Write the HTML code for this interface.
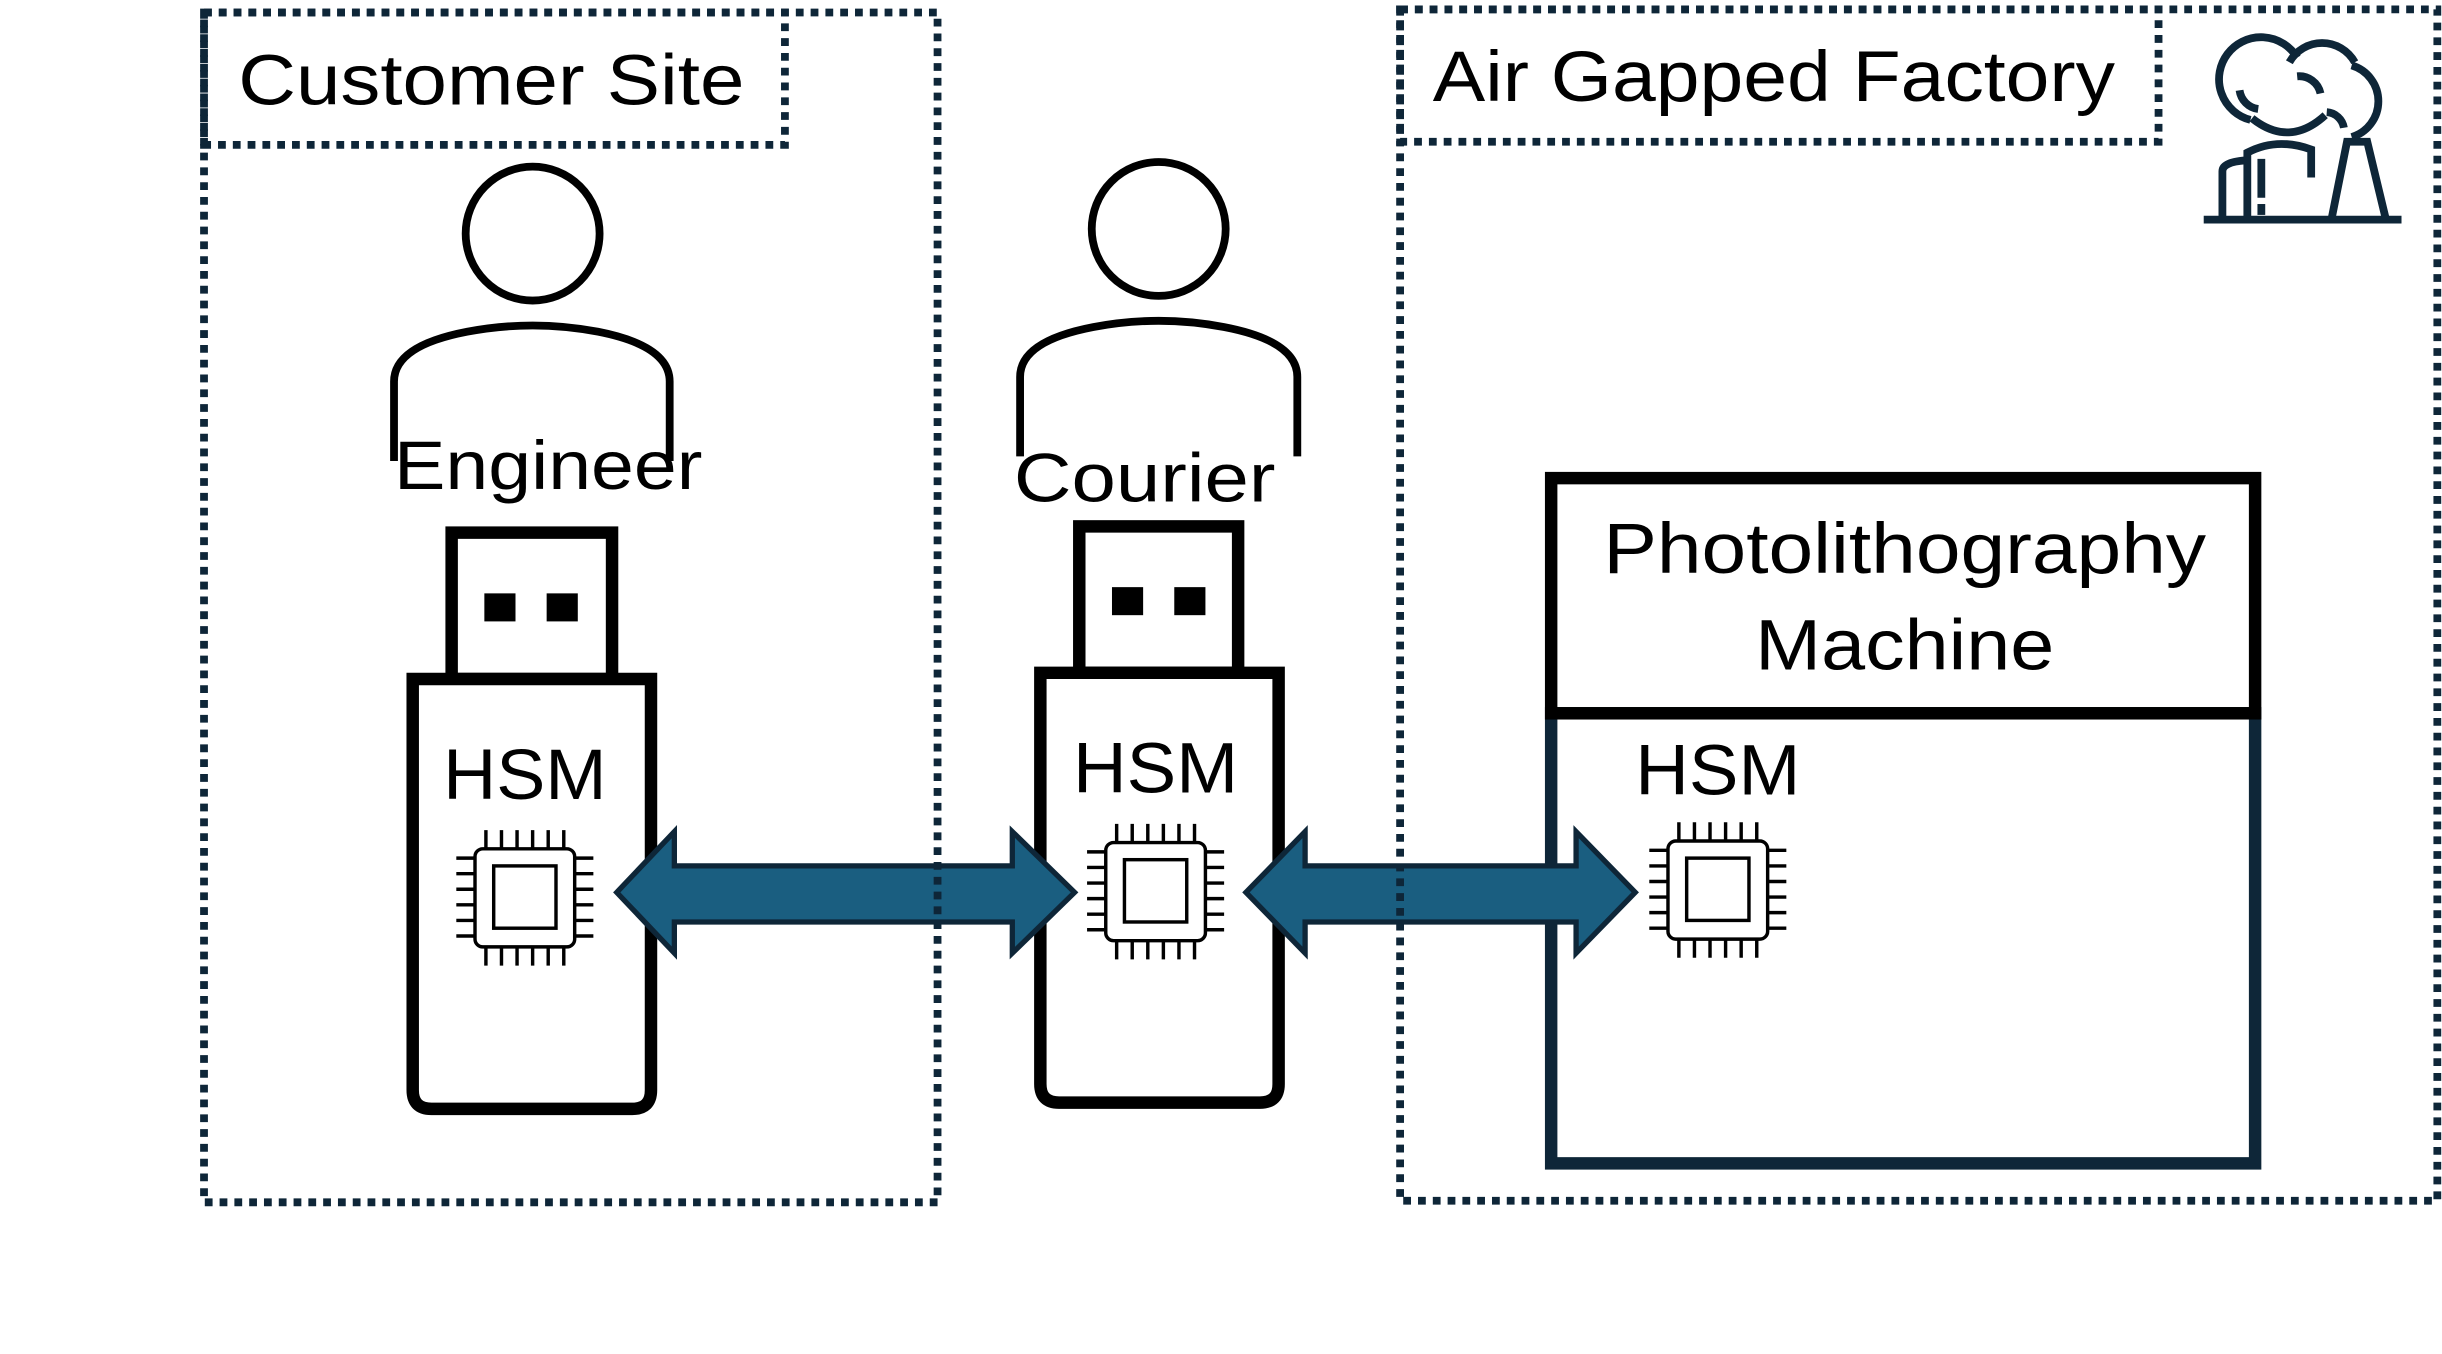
<!DOCTYPE html>
<html><head><meta charset="utf-8"><style>
html,body{margin:0;padding:0;background:#fff;}
svg{display:block;}
text{font-family:"Liberation Sans",sans-serif;fill:#000;}
</style></head><body>
<svg width="2442" height="1354" viewBox="0 0 1568 869.4" preserveAspectRatio="none" xmlns="http://www.w3.org/2000/svg">
<text x="153" y="67" font-size="46" textLength="325" lengthAdjust="spacingAndGlyphs">Customer Site</text>
<text x="920" y="65" font-size="46" textLength="438" lengthAdjust="spacingAndGlyphs">Air Gapped Factory</text>
<!-- factory icon -->
<g fill="none" stroke="#0e2638" stroke-width="5">
<line x1="1415" y1="141" x2="1542" y2="141"/>
<path d="M1497,141 L1507,91 L1520,91 L1532,141"/>
<path d="M1427,141 V110 Q1427,104 1442,103"/>
<path d="M1443,141 V98 Q1462,88 1484,96 V114"/>
<line x1="1452" y1="102" x2="1452" y2="127"/>
<line x1="1452" y1="131" x2="1452" y2="138"/>
<path d="M1445,77 A27,27 0 1 1 1475,37"/>
<path d="M1470,40 A24,24 0 0 1 1512,40"/>
<path d="M1510,42 A24,24 0 0 1 1510,88"/>
<path d="M1450,70 A14,14 0 0 1 1438,58"/>
<path d="M1490,60 A14,14 0 0 0 1475,49"/>
<path d="M1505,82 A12,12 0 0 0 1494,72"/>
<path d="M1446,76 Q1470,95 1493,74"/>
</g>
<!-- persons -->
<g fill="none" stroke="#000" stroke-width="5">
<circle cx="342" cy="150" r="43"/>
<path d="M253,296 V245 Q253,222 300,213 Q342,205 384,213 Q430,222 430,245 V296"/>
<circle cx="744" cy="147" r="43"/>
<path d="M655,293 V242 Q655,219 702,210 Q744,202 786,210 Q833,219 833,242 V293"/>
</g>
<text x="352" y="314" font-size="44" text-anchor="middle" textLength="198" lengthAdjust="spacingAndGlyphs">Engineer</text>
<text x="735" y="322" font-size="44" text-anchor="middle" textLength="168" lengthAdjust="spacingAndGlyphs">Courier</text>
<!-- USBs -->
<g fill="#fff" stroke="#000" stroke-width="8">
<rect x="290" y="342" width="103" height="94"/>
<path d="M265,436 H418 V700 Q418,712 406,712 H277 Q265,712 265,700 Z"/>
<rect x="693" y="338" width="102" height="94"/>
<path d="M668,432 H821 V696 Q821,708 809,708 H680 Q668,708 668,696 Z"/>
</g>
<rect x="311" y="381" width="20" height="18" fill="#000"/>
<rect x="351" y="381" width="20" height="18" fill="#000"/>
<rect x="714" y="377" width="20" height="18" fill="#000"/>
<rect x="754" y="377" width="20" height="18" fill="#000"/>
<text x="337" y="513" font-size="46" text-anchor="middle" textLength="105" lengthAdjust="spacingAndGlyphs">HSM</text>
<text x="742" y="509" font-size="46" text-anchor="middle" textLength="106" lengthAdjust="spacingAndGlyphs">HSM</text>
<!-- Photolithography machine -->
<rect x="996" y="458" width="452" height="289" fill="none" stroke="#0e2638" stroke-width="8"/>
<rect x="996" y="307" width="452" height="151" fill="none" stroke="#000" stroke-width="8"/>
<text x="1223" y="368" font-size="46" text-anchor="middle" textLength="387" lengthAdjust="spacingAndGlyphs">Photolithography</text>
<text x="1223" y="430" font-size="46" text-anchor="middle" textLength="192" lengthAdjust="spacingAndGlyphs">Machine</text>
<text x="1103" y="510" font-size="46" text-anchor="middle" textLength="106" lengthAdjust="spacingAndGlyphs">HSM</text>
<!-- chips -->
<defs>
<g id="chip" fill="none" stroke="#000" stroke-width="2.2">
<rect x="-32" y="-31" width="64" height="63" rx="5" fill="#fff"/>
<rect x="-20" y="-20" width="40" height="40"/>
<path d="M-25,-31 v-12 M-15,-31 v-12 M-5,-31 v-12 M5,-31 v-12 M15,-31 v-12 M25,-31 v-12"/>
<path d="M-25,32 v12 M-15,32 v12 M-5,32 v12 M5,32 v12 M15,32 v12 M25,32 v12"/>
<path d="M-32,-25 h-12 M-32,-15 h-12 M-32,-5 h-12 M-32,5 h-12 M-32,15 h-12 M-32,25 h-12"/>
<path d="M32,-25 h12 M32,-15 h12 M32,-5 h12 M32,5 h12 M32,15 h12 M32,25 h12"/>
</g>
</defs>
<use href="#chip" x="337" y="576"/>
<use href="#chip" x="742" y="572"/>
<use href="#chip" x="1103" y="571"/>
<!-- arrows -->
<g fill="#1a5e80" stroke="#0e2638" stroke-width="3.4" stroke-linejoin="miter">
<polygon points="396,573 433,534 433,556 650,556 650,534 690,573 650,612 650,592 433,592 433,612"/>
<polygon points="800,573 838,534 838,556 1012,556 1012,534 1050,573 1012,612 1012,592 838,592 838,612"/>
</g>
<!-- dashed region boxes -->
<g fill="none" stroke="#0e2638" stroke-width="5" stroke-dasharray="5 4.5">
<rect x="131" y="8" width="471" height="764"/>
<rect x="131" y="8" width="373" height="85"/>
<rect x="899" y="6" width="666" height="765"/>
<rect x="899" y="6" width="487" height="85"/>
</g>
</svg>
</body></html>
